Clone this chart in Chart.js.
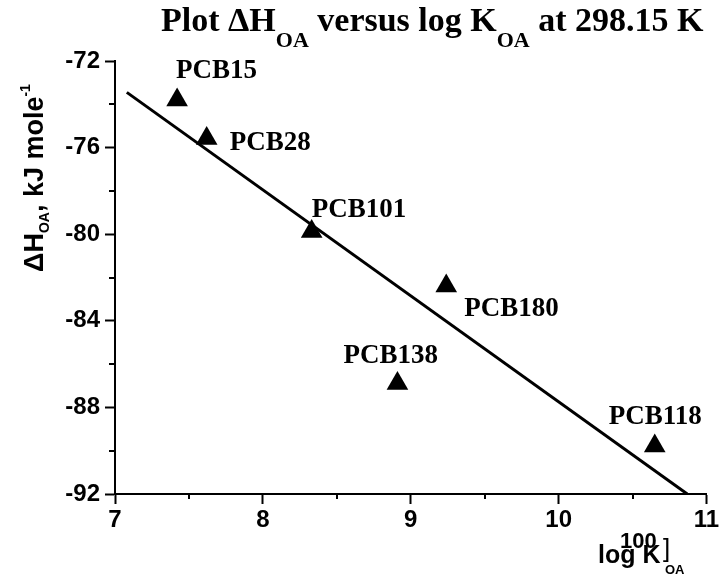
<!DOCTYPE html>
<html>
<head>
<meta charset="utf-8">
<script src="https://cdn.jsdelivr.net/npm/chart.js@4"></script>
<style>
  html, body { margin: 0; padding: 0; background: #fff; }
  #wrap { width: 719px; height: 577px; }
</style>
</head>
<body>
<div id="wrap"><canvas id="chart"></canvas></div>
<script>
// data
const compounds = ["PCB15", "PCB28", "PCB101", "PCB180", "PCB138", "PCB118"];
const logKoa = [7.42, 7.62, 8.33, 9.24, 8.91, 10.65];
const deltaH = [-73.8, -75.58, -79.88, -82.39, -86.9, -89.78];

// regression line end points
const fitX = [7.08, 10.87];
const fitY = [-73.45, -92];

// axis ticks
const xTicks = [7, 8, 9, 10, 11];
const yTicks = [-72, -76, -80, -84, -88, -92];

// label placement relative to each marker (px)
const labelOffsets = [[-1, -22], [23, 11], [0, -15], [18, 30], [-54, -21], [-46, -22]];

const sans = "Arial, 'Liberation Sans', sans-serif";
const serif = "'Times New Roman', 'Liberation Serif', serif";

// draws a run of [text, font, dy] pieces left to right
function drawRuns(ctx, x, y, runs) {
  runs.forEach(([txt, font, dy]) => {
    ctx.font = font;
    ctx.fillText(txt, x, y + dy);
    x += ctx.measureText(txt).width;
  });
}

const decorations = {
  id: "decorations",
  afterDraw(chart) {
    const ctx = chart.ctx;
    const xs = chart.scales.x;
    const ys = chart.scales.y;
    ctx.save();
    ctx.fillStyle = "#000";
    ctx.strokeStyle = "#000";
    ctx.lineWidth = 2;

    // minor ticks
    ctx.beginPath();
    for (let i = 0; i < xTicks.length - 1; i++) {
      const px = Math.round(xs.getPixelForValue((xTicks[i] + xTicks[i + 1]) / 2));
      ctx.moveTo(px, xs.top);
      ctx.lineTo(px, xs.top + 5);
    }
    for (let i = 0; i < yTicks.length - 1; i++) {
      const py = Math.round(ys.getPixelForValue((yTicks[i] + yTicks[i + 1]) / 2));
      ctx.moveTo(ys.right, py);
      ctx.lineTo(ys.right - 6, py);
    }
    ctx.stroke();

    ctx.textBaseline = "alphabetic";
    ctx.textAlign = "left";

    // point labels
    const meta = chart.getDatasetMeta(1);
    ctx.font = "bold 27px " + serif;
    meta.data.forEach((pt, i) => {
      ctx.fillText(compounds[i], pt.x + labelOffsets[i][0], pt.y + labelOffsets[i][1]);
    });

    // title
    drawRuns(ctx, 161, 31, [
      ["Plot \u0394H", "bold 34px " + serif, 0],
      ["OA", "bold 22px " + serif, 16],
      [" versus log K", "bold 34px " + serif, 0],
      ["OA", "bold 22px " + serif, 16],
      [" at 298.15 K", "bold 34px " + serif, 0],
    ]);

    // y axis title
    ctx.save();
    ctx.translate(43, 272);
    ctx.rotate(-Math.PI / 2);
    drawRuns(ctx, 0, 0, [
      ["\u0394H", "bold 27px " + sans, 0],
      ["OA", "bold 14px " + sans, 6],
      [", kJ mole", "bold 27px " + sans, 0],
      ["-1", "bold 14px " + sans, -13],
    ]);
    ctx.restore();

    // x axis title
    ctx.font = "bold 25px " + sans;
    ctx.fillText("log K", 598, 563);
    ctx.font = "bold 22px " + sans;
    ctx.fillText("100", 620, 548);
    ctx.font = "26px " + sans;
    ctx.fillText("]", 663, 557);
    ctx.font = "bold 13px " + sans;
    ctx.fillText("OA", 665, 574);
    ctx.restore();
  },
};

new Chart(document.getElementById("chart"), {
  type: "scatter",
  data: {
    datasets: [
      {
        label: "fit",
        data: fitX.map((x, i) => ({ x: x, y: fitY[i] })),
        showLine: true,
        borderColor: "#000",
        borderWidth: 3,
        pointRadius: 0,
        fill: false,
      },
      {
        label: "PCB",
        data: logKoa.map((x, i) => ({ x: x, y: deltaH[i] })),
        pointStyle: "triangle",
        pointRadius: 12.5,
        backgroundColor: "#000",
        borderColor: "#000",
        borderWidth: 0,
      },
    ],
  },
  options: {
    responsive: true,
    maintainAspectRatio: false,
    animation: false,
    events: [],
    layout: { padding: { top: 61, right: 11, left: 0, bottom: 0 } },
    plugins: {
      legend: { display: false },
      tooltip: { enabled: false },
    },
    scales: {
      x: {
        type: "linear",
        min: 7,
        max: 11,
        afterBuildTicks: (s) => { s.ticks = xTicks.map((v) => ({ value: v })); },
        afterFit: (s) => { s.height = 83; s.paddingLeft = 0; s.paddingRight = 0; },
        ticks: {
          color: "#000",
          padding: 2,
          maxRotation: 0,
          font: { family: sans, size: 24, weight: "bold" },
        },
        grid: { drawOnChartArea: false, color: "#000", tickLength: 10, tickWidth: 2 },
        border: { display: true, color: "#000", width: 2 },
      },
      y: {
        type: "linear",
        min: -92,
        max: -72,
        afterBuildTicks: (s) => { s.ticks = yTicks.map((v) => ({ value: v })); },
        afterFit: (s) => { s.width = 115; s.paddingTop = 0; s.paddingBottom = 0; },
        ticks: {
          color: "#000",
          padding: 5,
          font: { family: sans, size: 24, weight: "bold" },
        },
        grid: { drawOnChartArea: false, color: "#000", tickLength: 10, tickWidth: 2 },
        border: { display: true, color: "#000", width: 2 },
      },
    },
  },
  plugins: [decorations],
});
</script>
</body>
</html>
